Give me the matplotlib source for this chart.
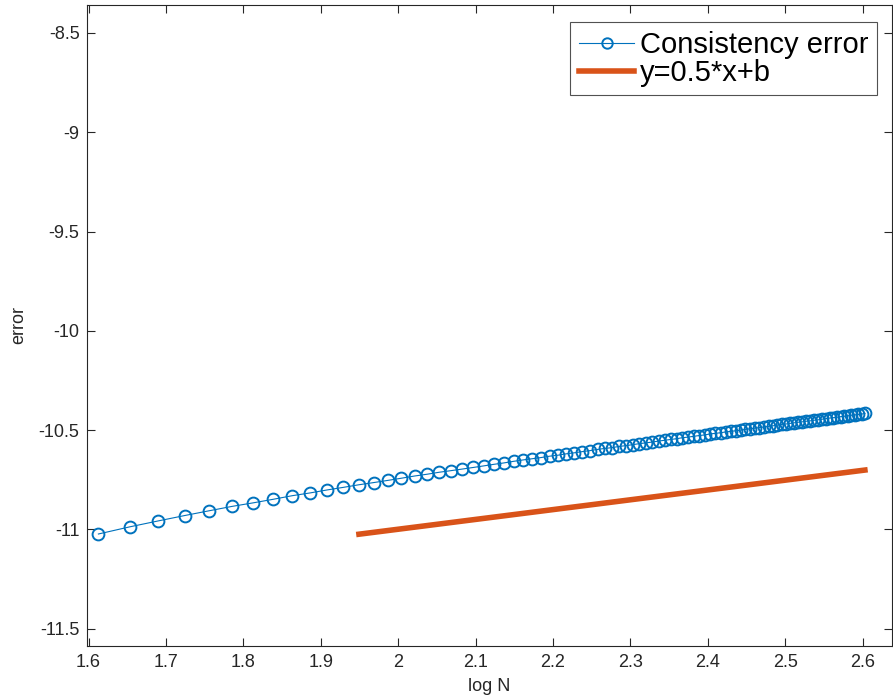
import numpy as np
import matplotlib
matplotlib.use('Agg')
from matplotlib import pyplot as plt

# sample sizes N (x axis is log10 N)
N = [41, 45, 49, 53, 57, 61, 65, 69, 73, 77, 81, 85, 89, 93, 97,
     101, 105, 109, 113, 117, 121, 125, 129, 133, 137, 141, 145, 149,
     153, 157, 161, 165, 169, 173, 177, 181, 185, 189, 193, 197, 201,
     205, 209, 213, 217, 221, 225, 229, 233, 237, 241, 245, 249, 253,
     257, 261, 265, 269, 273, 277, 281, 285, 289, 293, 297, 301, 305,
     309, 313, 317, 321, 325, 329, 333, 337, 341, 345, 349, 353, 357,
     361, 365, 369, 373, 377, 381, 385, 389, 393, 397, 401]

# consistency error (log scale)
err = [-11.023, -10.987, -10.957, -10.930, -10.906, -10.884, -10.866,
       -10.848, -10.830, -10.816, -10.801, -10.788, -10.775, -10.764,
       -10.753, -10.742, -10.731, -10.722, -10.712, -10.704, -10.696,
       -10.688, -10.680, -10.672, -10.665, -10.657, -10.650, -10.644,
       -10.638, -10.631, -10.626, -10.619, -10.614, -10.608, -10.603,
       -10.597, -10.592, -10.588, -10.582, -10.578, -10.573, -10.568,
       -10.564, -10.560, -10.555, -10.551, -10.547, -10.543, -10.538,
       -10.535, -10.531, -10.527, -10.524, -10.519, -10.516, -10.513,
       -10.509, -10.506, -10.503, -10.500, -10.496, -10.493, -10.490,
       -10.487, -10.484, -10.481, -10.478, -10.475, -10.471, -10.469,
       -10.466, -10.463, -10.460, -10.458, -10.455, -10.453, -10.450,
       -10.448, -10.445, -10.442, -10.439, -10.437, -10.435, -10.432,
       -10.430, -10.428, -10.425, -10.423, -10.421, -10.419, -10.416]

# reference line y = 0.5*x + b
ref_x = [1.9494, 2.6031]
ref_y = [-11.024, -10.701]

xticks = [1.6, 1.7, 1.8, 1.9, 2.0, 2.1, 2.2, 2.3, 2.4, 2.5, 2.6]
xticklabels = ['1.6', '1.7', '1.8', '1.9', '2', '2.1', '2.2', '2.3', '2.4', '2.5', '2.6']
yticks = [-11.5, -11, -10.5, -10, -9.5, -9, -8.5]
yticklabels = ['-11.5', '-11', '-10.5', '-10', '-9.5', '-9', '-8.5']

plt.rcParams['font.family'] = ['Liberation Sans', 'DejaVu Sans']

fig = plt.figure(figsize=(8.93, 7), dpi=100)
ax = fig.add_axes([86.5 / 893, 54 / 700, (892 - 86.5) / 893, 641 / 700])

ax.plot(np.log10(N), err, color='#0072BD', lw=0.8, marker='o',
        ms=8.5, mfc='none', mew=1.4, label='Consistency error')
ax.plot(ref_x, ref_y, color='#D95319', lw=4, label='y=0.5*x+b')

ax.set_xlim(1.5974, 2.6381)
ax.set_ylim(-11.587, -8.359)
ax.set_xticks(xticks)
ax.set_xticklabels(xticklabels)
ax.set_yticks(yticks)
ax.set_yticklabels(yticklabels)

axcol = '#262626'
for s in ax.spines.values():
    s.set_color(axcol)
    s.set_linewidth(0.8)
ax.tick_params(direction='in', top=True, right=True, length=6,
               width=0.8, color=axcol, labelcolor=axcol, labelsize=13)
ax.tick_params(axis='x', pad=6)
ax.tick_params(axis='y', pad=5)

ax.set_xlabel('log N', fontsize=13, color=axcol, labelpad=5)
ax.set_ylabel('error', fontsize=13, color=axcol, labelpad=8)

leg = ax.legend(loc='upper right', bbox_to_anchor=(0.9814, 0.9735),
                fontsize=21, frameon=True, fancybox=False,
                handlelength=1.88, handletextpad=0.2, borderpad=0.3,
                labelspacing=0.0, borderaxespad=0)
leg.get_frame().set_edgecolor(axcol)
leg.get_frame().set_linewidth(0.8)
leg.legend_handles[0].set_markersize(7.5)

fig.savefig('out.png', dpi=100)
